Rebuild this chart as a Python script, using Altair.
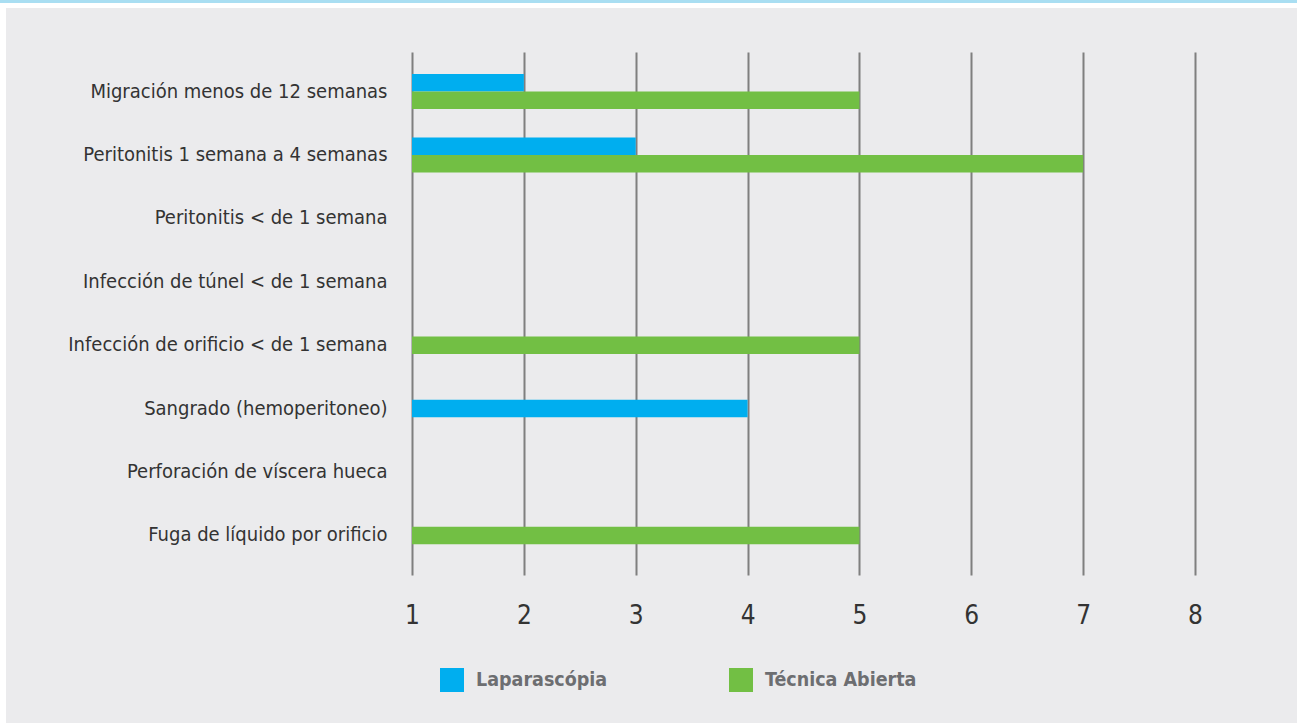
import altair as alt
import pandas as pd

categories = [
    "Migración menos de 12 semanas",
    "Peritonitis 1 semana a 4 semanas",
    "Peritonitis < de 1 semana",
    "Infección de túnel < de 1 semana",
    "Infección de orificio < de 1 semana",
    "Sangrado (hemoperitoneo)",
    "Perforación de víscera hueca",
    "Fuga de líquido por orificio",
]
series = ["Laparascópia", "Técnica Abierta"]
laparoscopia = [2, 3, None, None, None, 4, None, None]
tecnica = [5, 7, None, None, 5, None, None, 5]
x_ticks = [1, 2, 3, 4, 5, 6, 7, 8]
colors = ["#00AEEF", "#72BF44"]

rows = []
for c, a, b in zip(categories, laparoscopia, tecnica):
    if a is not None:
        rows.append({"cat": c, "serie": series[0], "val": a})
    if b is not None:
        rows.append({"cat": c, "serie": series[1], "val": b})
df = pd.DataFrame(rows)

FONT = "DejaVu Sans Condensed, Liberation Sans Narrow, Roboto"
BARH = 17.5
W, H = 783, 523
PL, PT, PR, PB = 412, 52, 102, 148
N = len(categories)
OUTER = 0.125
STEP = H / (N + 2 * OUTER)
P_IN = 1 - BARH / STEP
P_OUT = (2 * OUTER + P_IN) / 2

bars = (
    alt.Chart(df)
    .transform_joinaggregate(n="count()", groupby=["cat"])
    .transform_calculate(
        off=f"datum.n > 1 ? (datum.serie == '{series[0]}' ? -{BARH/2} : {BARH/2}) : 0"
    )
    .mark_bar()
    .encode(
        y=alt.Y(
            "cat:N",
            sort=categories,
            scale=alt.Scale(domain=categories, paddingInner=P_IN, paddingOuter=P_OUT),
            axis=alt.Axis(
                title=None, ticks=False, domain=False, grid=False,
                labelFont=FONT, labelFontSize=20, labelColor="#333333",
                labelPadding=25, labelLimit=500,
            ),
        ),
        yOffset=alt.YOffset("off:Q", scale=None),
        x=alt.X(
            "val:Q",
            scale=alt.Scale(domain=[1, 8], nice=False, zero=False),
            axis=alt.Axis(
                title=None, values=x_ticks, format="d", ticks=False, domain=False,
                grid=True, gridColor="#7f7f7f", gridWidth=2,
                labelFont=FONT, labelFontSize=26, labelColor="#333333",
                labelPadding=27, labelFlush=False,
            ),
        ),
        x2=alt.datum(1),
        color=alt.Color(
            "serie:N",
            scale=alt.Scale(domain=series, range=colors),
            legend=alt.Legend(
                title=None, orient="none", legendX=28, legendY=616,
                direction="horizontal", symbolType="square", symbolSize=576,
                symbolStrokeWidth=0, labelFont=FONT, labelFontWeight="bold",
                labelFontSize=19.5, labelColor="#6d6e71", labelOffset=12,
                columnPadding=121, labelLimit=400,
            ),
        ),
    )
)

one = pd.DataFrame({"k": [0]})
left_strip = alt.Chart(one).mark_rect(color="white").encode(
    x=alt.value(-PL), x2=alt.value(-PL + 6), y=alt.value(-PT), y2=alt.value(H + PB)
)
top_strip = alt.Chart(one).mark_rect(color="white").encode(
    x=alt.value(-PL), x2=alt.value(W + PR), y=alt.value(-PT), y2=alt.value(-PT + 8)
)
blue_strip = alt.Chart(one).mark_rect(color="#a9def2").encode(
    x=alt.value(-PL), x2=alt.value(W + PR), y=alt.value(-PT), y2=alt.value(-PT + 3)
)

chart = (
    alt.layer(bars, left_strip, top_strip, blue_strip)
    .properties(
        width=W, height=H,
        padding={"left": PL, "top": PT, "right": PR, "bottom": PB},
        autosize="none", background="#ebebed",
    )
    .configure_view(stroke=None)
)

chart.save("out.html", embed_options={"renderer": "svg", "actions": False})
